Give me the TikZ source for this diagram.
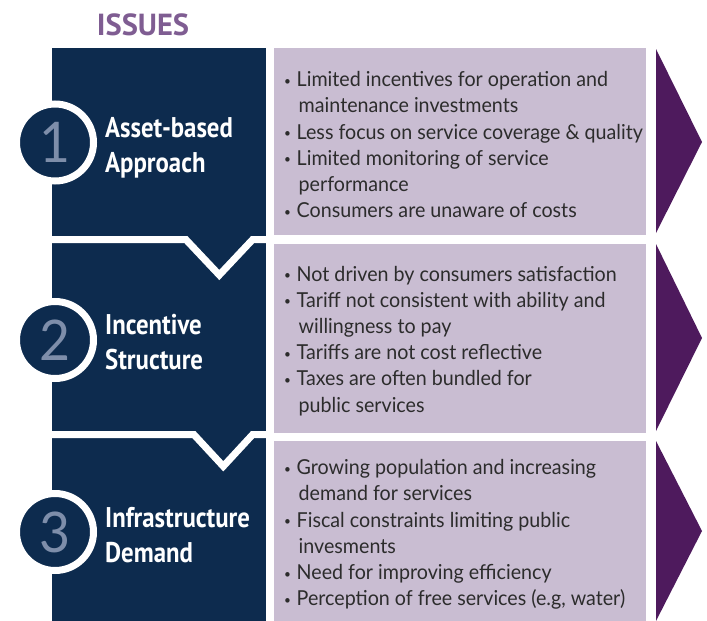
\documentclass[tikz,border=0pt]{standalone}
\usepackage{fontspec}
\setmainfont{Lato}[FakeStretch=0.955]
\newfontfamily\headfont{PT Sans}[FakeStretch=0.87]
\newfontfamily\titlefont{PT Sans}
\usetikzlibrary{positioning}
\definecolor{navy}{HTML}{0D2B4E}
\definecolor{mauve}{HTML}{C9BDD2}
\definecolor{plum}{HTML}{4E1A5D}
\definecolor{lilac}{HTML}{7F5D92}
\definecolor{steel}{HTML}{7E8EAA}
\definecolor{ink}{HTML}{2C2C2C}
\newcommand\bul{\makebox[12.5pt][l]{\raisebox{1.5pt}{\scalebox{0.6}{\textbullet}}}}
\newcommand\cont{\hspace*{14.5pt}}
\tikzset{
  numcircle/.style={
    circle, fill=navy, draw=white, line width=7pt,
    minimum size=77pt, inner sep=0pt,
    text=steel, font=\fontsize{56}{56}\selectfont
  },
  % multi-line nodes sit on the baseline of their last line
  headlabel/.style={
    anchor=base west, inner sep=0pt, text=white, align=left,
    font=\headfont\bfseries\fontsize{28.5}{35}\selectfont
  },
  bulletlist/.style={
    anchor=base west, inner sep=0pt, text=ink, align=left,
    font=\fontsize{20.6}{26.2}\selectfont
  },
  gapline/.style={draw=white, line width=7pt, line join=miter},
  issuebox/.style={fill=mauve},
  arrowtip/.style={fill=plum},
}

\begin{document}
\begin{tikzpicture}[x=1pt, y=-1pt]
  \useasboundingbox (0,0) rectangle (707,621);

  % title
  \node[anchor=base west, inner sep=0pt, text=lilac,
        font=\titlefont\bfseries\fontsize{30.5}{30.5}\selectfont] (title) at (96.7,35) {ISSUES};

  % dark column, split by the white chevrons
  \fill[navy] (52,48) rectangle (266,621);
  \draw[gapline] (52,239.7) -- (186,239.7) -- (219.3,275) -- (252.5,239.7) -- (266,239.7);
  \draw[gapline] (52,434.7) -- (194,434.7) -- (223.3,466.3) -- (252.5,434.7) -- (266,434.7);

  % light boxes
  \fill[issuebox] (274,48) rectangle (646,235);
  \fill[issuebox] (274,244) rectangle (646,432.5);
  \fill[issuebox] (274,441) rectangle (646,621);

  % arrow heads on the right
  \fill[arrowtip] (656,49) -- (702,142) -- (656,233) -- cycle;
  \fill[arrowtip] (656,244) -- (702,338) -- (656,431) -- cycle;
  \fill[arrowtip] (656,441) -- (702,531) -- (656,621) -- cycle;

  % numbered circles
  \node[numcircle] (num1) at (55,142.5) {1};
  \node[numcircle] (num2) at (55,340) {2};
  \node[numcircle] (num3) at (55,532) {3};

  % headings
  \node[headlabel] (head1) at (105,172.3) {Asset-based\\Approach};
  \node[headlabel] (head2) at (105,369.8) {Incentive\\Structure};
  \node[headlabel] (head3) at (105,562.8) {Infrastructure\\Demand};

  % issue lists
  \node[bulletlist] (list1) at (284,217.7) {%
    \bul Limited incentives for operation and\\
    \cont maintenance investments\\
    \bul Less focus on service coverage \& quality\\
    \bul Limited monitoring of service\\
    \cont performance\\
    \bul Consumers are unaware of costs};
  \node[bulletlist] (list2) at (284,412) {%
    \bul Not driven by consumers satisfaction\\
    \bul Tariff not consistent with ability and\\
    \cont willingness to pay\\
    \bul Tariffs are not cost reflective\\
    \bul Taxes are often bundled for\\
    \cont public services};
  \node[bulletlist] (list3) at (284,605.7) {%
    \bul Growing population and increasing\\
    \cont demand for services\\
    \bul Fiscal constraints limiting public\\
    \cont invesments\\
    \bul Need for improving efficiency\\
    \bul Perception of free services (e.g, water)};
\end{tikzpicture}
\end{document}
